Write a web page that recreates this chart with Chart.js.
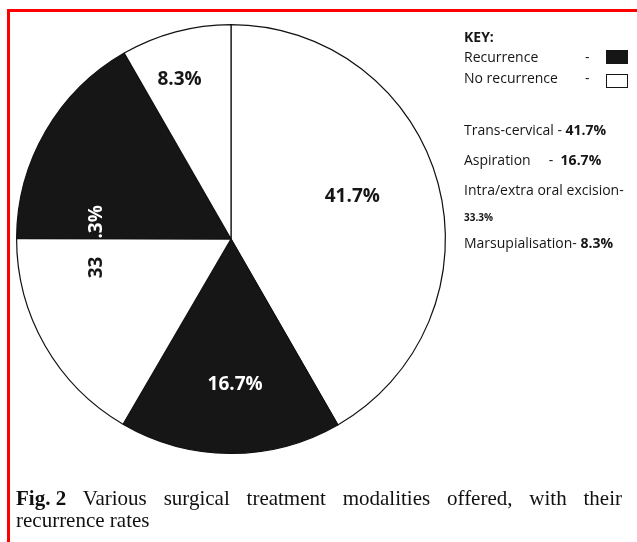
<!DOCTYPE html>
<html>
<head>
<meta charset="utf-8">
<script src="https://cdn.jsdelivr.net/npm/chart.js@4.4.0/dist/chart.umd.min.js"></script>
<style>
  html, body { margin: 0; padding: 0; background: #fff; }
  #wrap { position: relative; width: 637px; height: 542px; overflow: hidden; }
  #frame { position: absolute; left: 7px; top: 9px; width: 700px; height: 600px;
           border-top: 3px solid #f00; border-left: 3px solid #f00; }
  #chart { position: absolute; left: 0; top: 0; }
  #caption { position: absolute; left: 16px; top: 487px; width: 606px;
             font-family: "Liberation Serif", "Times New Roman", serif; font-size: 21px;
             line-height: 22px; color: #111; }
  #caption .l1 { text-align: justify; text-align-last: justify; white-space: nowrap; }
  #caption .fig { display: inline-block; font-weight: bold; }
</style>
</head>
<body>
<div id="wrap">
  <div id="frame"></div>
  <canvas id="chart" width="637" height="542"></canvas>
  <div id="caption">
    <div class="l1"><span class="fig">Fig. 2</span> Various surgical treatment modalities offered, with their</div>
    <div>recurrence rates</div>
  </div>
</div>
<script>
// categories and their shares (%)
const categories = ['Trans-cervical', 'Aspiration', 'Intra/extra oral excision', 'Marsupialisation'];
const shares = [41.7, 16.7, 33.3, 8.3];

// slices as drawn (the excision share is split in two halves)
const sliceValues = [41.7, 16.7, 16.65, 16.65, 8.3];
const sliceRecurrence = [false, true, false, true, false];
const sliceLabels = ['41.7%', '16.7%', '33', '.3%', '8.3%'];

const BLACK = '#161616';
const FONT = '"Open Sans", sans-serif';

// label placement: t = fraction across the slice angle, r = fraction of radius
const labelPlace = [
    { t: 0.47, r: 0.60 },
    { t: 0.47, r: 0.68 },
    null,
    null,
    { t: 0.40, r: 0.78 }
];

const labelPlugin = {
    id: 'labels',
    afterDatasetsDraw(chart) {
        const ctx = chart.ctx;
        const arcs = chart.getDatasetMeta(0).data;
        ctx.save();
        ctx.font = 'bold 19px ' + FONT;
        ctx.textAlign = 'center';
        ctx.textBaseline = 'middle';
        arcs.forEach((arc, i) => {
            const p = labelPlace[i];
            if (!p) return;
            const a = arc.startAngle + (arc.endAngle - arc.startAngle) * p.t;
            const rr = arc.outerRadius * p.r;
            ctx.fillStyle = sliceRecurrence[i] ? '#fff' : BLACK;
            ctx.fillText(sliceLabels[i], arc.x + Math.cos(a) * rr, arc.y + Math.sin(a) * rr);
        });
        // split 33.3% label, rotated along the boundary between slices 2 and 3
        const a2 = arcs[2];
        const ang = a2.endAngle;
        const rr = a2.outerRadius * 0.625;
        const x = a2.x + Math.cos(ang) * rr;
        const y = a2.y + Math.sin(ang) * rr;
        ctx.translate(x, y);
        ctx.rotate(-Math.PI / 2);
        ctx.textAlign = 'right';
        ctx.fillStyle = BLACK;
        ctx.fillText(sliceLabels[2], -18, 0);
        ctx.textAlign = 'left';
        ctx.fillStyle = '#fff';
        ctx.fillText(sliceLabels[3], 0, 0);
        ctx.restore();
    }
};

const keyPlugin = {
    id: 'key',
    afterDraw(chart) {
        const ctx = chart.ctx;
        ctx.save();
        ctx.fillStyle = BLACK;
        ctx.textBaseline = 'alphabetic';
        ctx.textAlign = 'left';
        const x0 = 464;
        ctx.font = 'bold 14px ' + FONT;
        ctx.fillText('KEY:', x0, 42);
        ctx.font = '14px ' + FONT;
        ctx.fillText('Recurrence', x0, 62);
        ctx.fillText('-', 585, 62);
        ctx.fillText('No recurrence', x0, 83);
        ctx.fillText('-', 585, 83);
        ctx.fillRect(606, 50, 22, 14);
        ctx.strokeStyle = BLACK;
        ctx.lineWidth = 1;
        ctx.strokeRect(606.5, 74.5, 21, 13);

        const lines = [
            [categories[0] + ' - ', shares[0] + '%', 135],
            [categories[1] + '     -  ', shares[1] + '%', 165],
            [categories[2] + '-', null, 195],
            ['', shares[2] + '%', 221, true],
            [categories[3] + '- ', shares[3] + '%', 248]
        ];
        lines.forEach(l => {
            let x = x0;
            ctx.font = '14px ' + FONT;
            if (l[0]) {
                ctx.fillText(l[0], x, l[2]);
                x += ctx.measureText(l[0]).width;
            }
            if (l[1]) {
                ctx.font = l[3] ? 'bold 10px ' + FONT : 'bold 14px ' + FONT;
                ctx.fillText(l[1], x, l[2]);
            }
        });
        ctx.restore();
    }
};

new Chart(document.getElementById('chart'), {
    type: 'pie',
    data: {
        labels: sliceLabels,
        datasets: [{
            data: sliceValues,
            backgroundColor: sliceRecurrence.map(r => r ? BLACK : '#fff'),
            borderColor: '#111',
            borderWidth: 1.2
        }]
    },
    options: {
        responsive: false,
        animation: false,
        layout: { padding: { left: 16, top: 24, right: 191, bottom: 88 } },
        plugins: {
            legend: { display: false },
            tooltip: { enabled: false }
        }
    },
    plugins: [labelPlugin, keyPlugin]
});
</script>
</body>
</html>
